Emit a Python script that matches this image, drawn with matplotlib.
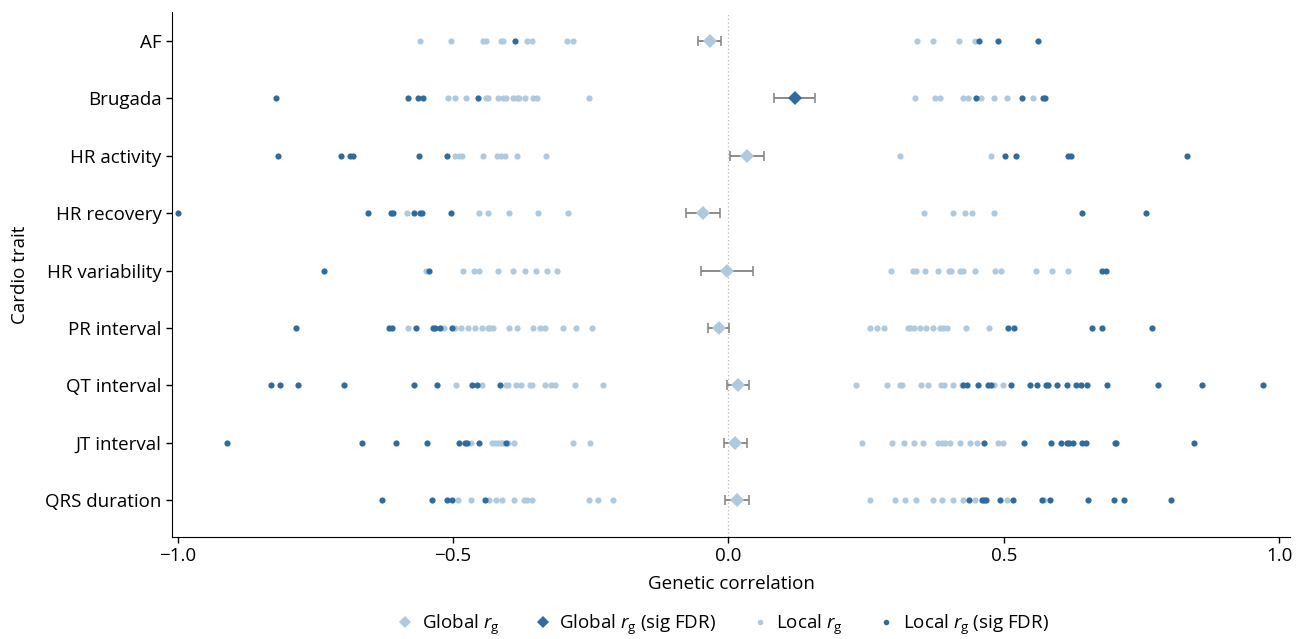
import matplotlib
matplotlib.use("Agg")
import matplotlib.pyplot as plt
from matplotlib.lines import Line2D

plt.rcParams['font.family'] = ['Open Sans', 'DejaVu Sans']
plt.rcParams['mathtext.fontset'] = 'custom'
plt.rcParams['mathtext.rm'] = 'Open Sans'
plt.rcParams['mathtext.it'] = 'Open Sans:italic'

traits = ["AF", "Brugada", "HR activity", "HR recovery", "HR variability",
          "PR interval", "QT interval", "JT interval", "QRS duration"]

# global rg with CI, per trait
global_rg = [-0.034, 0.120, 0.034, -0.046, -0.003, -0.018, 0.018, 0.012, 0.015]
global_lo = [-0.055, 0.083, 0.003, -0.077, -0.049, -0.037, -0.002, -0.008, -0.006]
global_hi = [-0.013, 0.157, 0.065, -0.015, 0.045, 0.001, 0.038, 0.033, 0.038]
global_sig = [False, True, False, False, False, False, False, False, False]

# local rg (not significant) and local rg (sig FDR), per trait
af_local = [-0.560, -0.504, -0.445, -0.440, -0.412, -0.409, -0.366, -0.357, -0.293, -0.282,
            0.343, 0.372, 0.418, 0.447]
af_sig = [-0.387, 0.455, 0.490, 0.561]

brugada_local = [-0.509, -0.496, -0.477, -0.440, -0.436, -0.418, -0.409, -0.403, -0.391, -0.384,
                 -0.381, -0.369, -0.354, -0.348, -0.253,
                 0.338, 0.374, 0.384, 0.426, 0.435, 0.458, 0.482, 0.506, 0.552]
brugada_sig = [-0.821, -0.582, -0.563, -0.554, -0.454, 0.450, 0.533, 0.570, 0.574]

hract_local = [-0.496, -0.490, -0.484, -0.445, -0.421, -0.412, -0.406, -0.383, -0.332,
               0.312, 0.476]
hract_sig = [-0.818, -0.703, -0.687, -0.681, -0.562, -0.511, 0.501, 0.521, 0.616, 0.622, 0.832]

hrrec_local = [-0.584, -0.453, -0.436, -0.398, -0.346, -0.291,
               0.354, 0.408, 0.429, 0.442, 0.482]
hrrec_sig = [-0.999, -0.654, -0.613, -0.609, -0.571, -0.560, -0.557, -0.504, 0.642, 0.757]

hrv_local = [-0.549, -0.481, -0.462, -0.453, -0.418, -0.392, -0.369, -0.350, -0.330, -0.312,
             0.295, 0.334, 0.340, 0.357, 0.380, 0.401, 0.404, 0.421, 0.426, 0.447, 0.484,
             0.495, 0.559, 0.587, 0.617]
hrv_sig = [-0.734, -0.543, 0.677, 0.685]

pr_local = [-0.582, -0.516, -0.496, -0.485, -0.473, -0.460, -0.448, -0.436, -0.432, -0.428,
            -0.399, -0.384, -0.354, -0.343, -0.333, -0.301, -0.276, -0.248,
            0.256, 0.269, 0.283, 0.325, 0.329, 0.337, 0.348, 0.358, 0.371, 0.383, 0.390,
            0.396, 0.431, 0.472]
pr_sig = [-0.785, -0.617, -0.610, -0.568, -0.537, -0.533, -0.523, -0.501,
          0.508, 0.519, 0.660, 0.678, 0.768]

qt_local = [-0.495, -0.448, -0.403, -0.400, -0.386, -0.377, -0.360, -0.356, -0.333, -0.323,
            -0.314, -0.279, -0.227,
            0.231, 0.288, 0.311, 0.315, 0.350, 0.362, 0.386, 0.392, 0.408, 0.423, 0.481, 0.499]
qt_sig = [-0.830, -0.814, -0.781, -0.698, -0.571, -0.529, -0.466, -0.457, -0.415,
          0.425, 0.433, 0.452, 0.471, 0.477, 0.513, 0.547, 0.560, 0.576, 0.579, 0.596,
          0.615, 0.631, 0.640, 0.651, 0.687, 0.780, 0.860, 0.970]

jt_local = [-0.467, -0.430, -0.424, -0.418, -0.412, -0.409, -0.400, -0.389, -0.282, -0.251,
            0.243, 0.296, 0.318, 0.336, 0.353, 0.381, 0.387, 0.393, 0.402, 0.420, 0.438,
            0.451, 0.489, 0.499]
jt_sig = [-0.911, -0.665, -0.603, -0.548, -0.490, -0.478, -0.475, -0.453, -0.404,
          0.463, 0.537, 0.586, 0.603, 0.614, 0.618, 0.626, 0.642, 0.649, 0.701, 0.704, 0.844]

qrs_local = [-0.491, -0.467, -0.435, -0.422, -0.411, -0.389, -0.372, -0.365, -0.357,
             -0.254, -0.237, -0.209,
             0.257, 0.303, 0.321, 0.341, 0.372, 0.387, 0.407, 0.426, 0.447, 0.505, 0.573]
qrs_sig = [-0.628, -0.538, -0.511, -0.502, -0.442,
           0.437, 0.460, 0.463, 0.467, 0.493, 0.517, 0.569, 0.584, 0.653, 0.700, 0.718, 0.804]

local_all = [af_local, brugada_local, hract_local, hrrec_local, hrv_local,
             pr_local, qt_local, jt_local, qrs_local]
sig_all = [af_sig, brugada_sig, hract_sig, hrrec_sig, hrv_sig,
           pr_sig, qt_sig, jt_sig, qrs_sig]

light = "#afc9de"
dark = "#2f6c9d"
fs = 13.5

fig = plt.figure(figsize=(13.06, 6.39), dpi=100)
ax = fig.add_axes([0.1317, 0.160, 0.856, 0.821])

ax.axvline(0, color="#bbbbbb", lw=0.9, ls=(0, (1, 2)), zorder=0)

for i in range(len(traits)):
    ax.scatter(local_all[i], [i] * len(local_all[i]), s=20, color=light, lw=0, zorder=2)
    ax.scatter(sig_all[i], [i] * len(sig_all[i]), s=20, color=dark, lw=0, zorder=3)
    ax.errorbar(global_rg[i], i,
                xerr=[[global_rg[i] - global_lo[i]], [global_hi[i] - global_rg[i]]],
                fmt="none", ecolor="#8a8a8a", elinewidth=1.4, capsize=3.5, capthick=1.2, zorder=4)
    ax.plot(global_rg[i], i, marker="D", ms=7.5, ls="none",
            color=dark if global_sig[i] else light, mew=0, zorder=5)

ax.set_yticks(range(len(traits)))
ax.set_yticklabels(traits, fontsize=fs)
ax.set_ylim(8.64, -0.505)
ax.set_xlim(-1.010, 1.019)
ax.set_xticks([-1.0, -0.5, 0.0, 0.5, 1.0])
ax.set_xticklabels(["\u22121.0", "\u22120.5", "0.0", "0.5", "1.0"], fontsize=fs)
ax.set_xlabel("Genetic correlation", fontsize=fs, labelpad=7)
ax.set_ylabel("Cardio trait", fontsize=fs, labelpad=12)
ax.spines["top"].set_visible(False)
ax.spines["right"].set_visible(False)
ax.tick_params(axis="both", length=4, width=1, color="black")

handles = [
    Line2D([], [], marker="D", ls="none", color=light, ms=6, mew=0),
    Line2D([], [], marker="D", ls="none", color=dark, ms=6, mew=0),
    Line2D([], [], marker="o", ls="none", color=light, ms=4, mew=0),
    Line2D([], [], marker="o", ls="none", color=dark, ms=4, mew=0),
]
labels = ["Global $r_\\mathrm{g}$", "Global $r_\\mathrm{g}$ (sig FDR)",
          "Local $r_\\mathrm{g}$", "Local $r_\\mathrm{g}$ (sig FDR)"]
fig.legend(handles, labels, loc="center", bbox_to_anchor=(0.553, 0.022), ncol=4,
           frameon=False, fontsize=fs, handletextpad=0.4, columnspacing=1.8,
           handlelength=1.0)

fig.savefig("out.png", dpi=100)
